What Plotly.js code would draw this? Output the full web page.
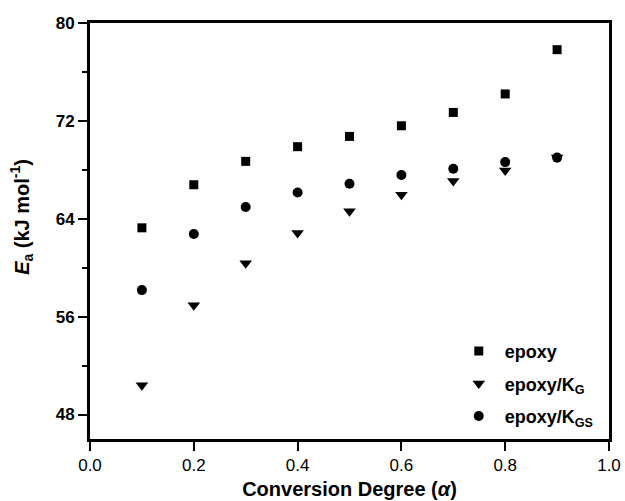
<!DOCTYPE html>
<html>
<head>
<meta charset="utf-8">
<script src="https://cdn.plot.ly/plotly-3.0.1.min.js"></script>
<style>html,body{margin:0;padding:0;background:#fff;}#chart{width:625px;height:501px;}</style>
</head>
<body>
<div id="chart"></div>
<script>
const alpha = [0.1, 0.2, 0.3, 0.4, 0.5, 0.6, 0.7, 0.8, 0.9];
const epoxy = [63.26, 66.78, 68.69, 69.89, 70.73, 71.6, 72.69, 74.2, 77.82];
const epoxyKG = [50.4, 56.94, 60.37, 62.83, 64.62, 65.96, 67.08, 67.95, 69.0];
const epoxyKGS = [58.17, 62.75, 64.96, 66.15, 66.86, 67.57, 68.09, 68.63, 69.0];
const seriesNames = ['epoxy', 'epoxy/K<sub>G</sub>', 'epoxy/K<sub>GS</sub>'];
const xTitle = 'Conversion Degree (<i>α</i>)';
const yTitle = '<i>E</i><sub>a</sub> (kJ mol<sup>-1</sup>)';

const FAM = 'Liberation Sans, Arial, sans-serif';
const traces = [
  {x: alpha, y: epoxy, name: seriesNames[0], legendgroup: 'a', mode: 'markers', type: 'scatter',
   marker: {symbol: 'square', size: 9, color: '#000'}},
  {x: alpha, y: epoxyKG, name: seriesNames[1], legendgroup: 'b', mode: 'markers', type: 'scatter',
   marker: {symbol: 'triangle-down', size: 11, color: '#000'}},
  {x: alpha, y: epoxyKGS, name: seriesNames[2], legendgroup: 'c', mode: 'markers', type: 'scatter',
   marker: {symbol: 'circle', size: 10, color: '#000'}}
];
const layout = {
  width: 625, height: 501,
  margin: {l: 90, r: 16, t: 23, b: 62},
  paper_bgcolor: '#fff', plot_bgcolor: '#fff',
  showlegend: true,
  legend: {x: 0.699, xanchor: 'left', y: 0.255, yanchor: 'top', bgcolor: 'rgba(0,0,0,0)',
    font: {family: FAM, size: 18, color: '#000', weight: 'bold'}, tracegroupgap: 6, itemwidth: 42},
  xaxis: {
    range: [0, 1], tick0: 0, dtick: 0.2, tickformat: '.1f',
    showline: true, linewidth: 3, linecolor: '#000', mirror: true,
    showgrid: false, zeroline: false,
    ticks: 'outside', ticklen: 9, tickwidth: 2, tickcolor: '#000',
    tickfont: {family: FAM, size: 17, color: '#000'},
    title: {text: xTitle, font: {family: FAM, size: 20, color: '#000', weight: 'bold'}, standoff: 8}
  },
  yaxis: {
    range: [46, 80], tick0: 0, dtick: 8,
    showline: true, linewidth: 3, linecolor: '#000', mirror: true,
    showgrid: false, zeroline: false,
    ticks: 'outside', ticklen: 9, tickwidth: 2, tickcolor: '#000',
    tickfont: {family: FAM, size: 17, color: '#000', weight: 'bold'},
    minor: {dtick: 4, tick0: 0, ticks: 'outside', ticklen: 5, tickwidth: 2, tickcolor: '#000', showgrid: false}
  },
  annotations: [{
    text: yTitle, textangle: -90, font: {family: FAM, size: 20, color: '#000', weight: 'bold'}, showarrow: false,
    xref: 'paper', yref: 'paper', x: -0.131, y: 0.534, xanchor: 'center', yanchor: 'middle'
  }]
};
Plotly.newPlot('chart', traces, layout, {displayModeBar: false, staticPlot: true});
</script>
</body>
</html>
